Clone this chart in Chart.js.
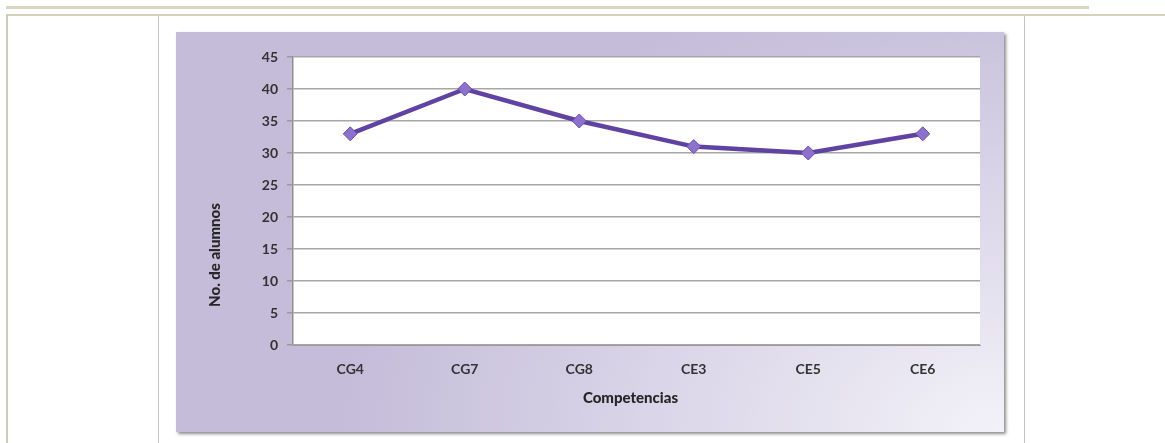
<!DOCTYPE html>
<html>
<head>
<meta charset="utf-8">
<script src="https://cdn.jsdelivr.net/npm/chart.js@4.4.1/dist/chart.umd.min.js"></script>
<style>
  html, body { margin: 0; padding: 0; background: #fff; width: 1165px; height: 443px; overflow: hidden; position: relative; }
  .band { position: absolute; left: 6px; top: 6px; width: 1083px; height: 3px; background: #d9d6c2; }
  .hline { position: absolute; left: 6px; top: 14px; width: 1159px; height: 2px; background: #d6d3bd; }
  .vleft { position: absolute; left: 6px; top: 14px; width: 2px; height: 429px; background: #cfcbb4; }
  .v1 { position: absolute; left: 158px; top: 16px; width: 1px; height: 427px; background: #c9c9c9; }
  .v2 { position: absolute; left: 1024px; top: 16px; width: 1px; height: 427px; background: #c4c4c4; }
  #box { position: absolute; left: 176px; top: 32px; width: 828px; height: 400px;
         background: radial-gradient(ellipse 80% 115% at 100% 100%, #f3f2f8 0%, #e0dcec 40%, #c4bcd9 100%);
         box-shadow: 2px 2px 3px rgba(0,0,0,0.45); }
  #box canvas { display: block; }
</style>
</head>
<body>
<div class="band"></div>
<div class="hline"></div>
<div class="vleft"></div>
<div class="v1"></div>
<div class="v2"></div>
<div id="box"><canvas id="c" width="828" height="400"></canvas></div>
<script>
const categories = ["CG4", "CG7", "CG8", "CE3", "CE5", "CE6"];
const alumnos = [33, 40, 35, 31, 30, 33];
const yTicks = [0, 5, 10, 15, 20, 25, 30, 35, 40, 45];
const xTitle = "Competencias";
const yTitle = "No. de alumnos";

const FONT = "Lato, 'Open Sans', sans-serif";

const plotBg = {
  id: 'plotBg',
  beforeDraw(chart) {
    const {ctx, chartArea: a} = chart;
    ctx.save();
    ctx.fillStyle = '#ffffff';
    ctx.fillRect(a.left, a.top, a.right - a.left, a.bottom - a.top);
    ctx.restore();
  }
};

const titles = {
  id: 'titles',
  afterDraw(chart) {
    const {ctx, chartArea: a} = chart;
    ctx.save();
    ctx.fillStyle = '#262626';
    ctx.font = "900 15px " + FONT;
    ctx.textAlign = 'center';
    ctx.textBaseline = 'middle';
    ctx.fillText(xTitle, (a.left + a.right) / 2 - 6, a.bottom + 53);
    ctx.translate(a.left - 78, a.top + 198);
    ctx.rotate(-Math.PI / 2);
    ctx.fillText(yTitle, 0, 0);
    ctx.restore();
  }
};

new Chart(document.getElementById('c'), {
  type: 'line',
  data: {
    labels: categories,
    datasets: [{
      data: alumnos,
      borderColor: '#5f42a2',
      borderWidth: 4.5,
      backgroundColor: '#8a6fcb',
      pointStyle: 'rectRot',
      pointRadius: 7,
      pointHoverRadius: 7,
      pointBorderColor: '#6a4fae',
      pointBorderWidth: 1,
      pointBackgroundColor: '#8c72cc',
      tension: 0,
      fill: false
    }]
  },
  options: {
    responsive: false,
    animation: false,
    devicePixelRatio: 1,
    layout: { padding: { top: 25, right: 24, left: 0, bottom: 0 } },
    plugins: { legend: { display: false }, tooltip: { enabled: false } },
    scales: {
      x: {
        type: 'category',
        offset: true,
        grid: { display: false, drawTicks: false },
        border: { display: true, color: '#9a9a9a', width: 1 },
        ticks: { padding: 16, color: '#333', font: { family: FONT, size: 14, weight: 'bold' }, maxRotation: 0 },
        afterFit(s) { s.height = 87; }
      },
      y: {
        min: 0, max: 45,
        afterBuildTicks(s) { s.ticks = yTicks.map(v => ({ value: v })); },
        grid: { color: '#a6a6a6', lineWidth: 1.5, tickLength: 6, drawTicks: true, tickColor: '#9a9a9a' },
        border: { display: true, color: '#8f8f8f', width: 1.5 },
        ticks: { padding: 9, color: '#333', font: { family: FONT, size: 14, weight: 'bold' } },
        afterFit(s) { s.width = 117; }
      }
    }
  },
  plugins: [plotBg, titles]
});
</script>
</body>
</html>
